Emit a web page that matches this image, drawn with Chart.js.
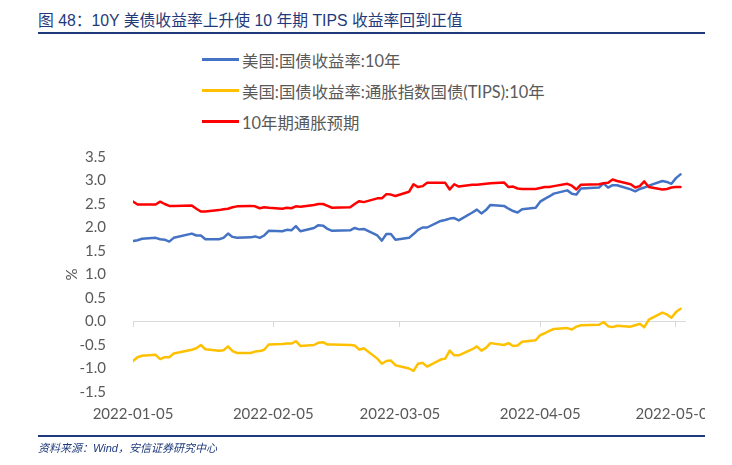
<!DOCTYPE html>
<html>
<head>
<meta charset="utf-8">
<script src="https://cdn.jsdelivr.net/npm/chart.js@4.4.1/dist/chart.umd.min.js"></script>
<style>
  body { margin: 0; background: #fff; }
  #wrap { position: relative; width: 732px; height: 465px; overflow: hidden; }
  #chart { position: absolute; left: 0; top: 0; }
  .title { position: absolute; left: 38px; top: 8px; font: 15.8px "Liberation Sans", "Noto Sans CJK SC", sans-serif; color: #1f3a7a; white-space: nowrap; }
  .rule { position: absolute; left: 38px; width: 667px; background: #1f3a7a; }
  .source { position: absolute; left: 38px; top: 439px; font: italic 11px "Liberation Sans", "Noto Sans CJK SC", sans-serif; color: #1f3a7a; }
  #legend { position: absolute; left: 202px; top: 44px; }
  .lg { height: 31px; display: flex; align-items: center; font: 16.4px Lato, "Noto Sans CJK SC", sans-serif; color: #595959; white-space: nowrap; }
  .lg i { display: inline-block; width: 37px; height: 3px; margin-right: 3px; }
</style>
</head>
<body>
<div id="wrap">
  <div class="title">图 48：10Y 美债收益率上升使 10 年期 TIPS 收益率回到正值</div>
  <div class="rule" style="top:32px;height:1.5px"></div>
  <div id="legend"></div>
  <canvas id="chart" width="732" height="465"></canvas>
  <div class="rule" style="top:435px;height:2px"></div>
  <div class="source">资料来源：Wind，安信证券研究中心</div>
</div>
<script>
const dates = [
  '2022-01-05','2022-01-06','2022-01-07','2022-01-10','2022-01-11','2022-01-12','2022-01-13','2022-01-14',
  '2022-01-18','2022-01-19','2022-01-20','2022-01-21','2022-01-24','2022-01-25','2022-01-26','2022-01-27','2022-01-28','2022-01-31',
  '2022-02-01','2022-02-02','2022-02-03','2022-02-04','2022-02-07','2022-02-08','2022-02-09','2022-02-10','2022-02-11',
  '2022-02-14','2022-02-15','2022-02-16','2022-02-17','2022-02-18','2022-02-22','2022-02-23','2022-02-24','2022-02-25','2022-02-28',
  '2022-03-01','2022-03-02','2022-03-03','2022-03-04','2022-03-07','2022-03-08','2022-03-09','2022-03-10','2022-03-11',
  '2022-03-14','2022-03-15','2022-03-16','2022-03-17','2022-03-18','2022-03-21','2022-03-22','2022-03-23','2022-03-24','2022-03-25',
  '2022-03-28','2022-03-29','2022-03-30','2022-03-31','2022-04-01','2022-04-04','2022-04-05','2022-04-06','2022-04-07','2022-04-08',
  '2022-04-11','2022-04-12','2022-04-13','2022-04-14','2022-04-18','2022-04-19','2022-04-20','2022-04-21','2022-04-22',
  '2022-04-25','2022-04-26','2022-04-27','2022-04-28','2022-04-29','2022-05-02','2022-05-03','2022-05-04','2022-05-05','2022-05-06'
];

// 美国:国债收益率:10年
const ust10y = [
  1.71,1.73,1.76,1.78,1.75,1.74,1.70,1.78,
  1.87,1.83,1.83,1.75,1.75,1.78,1.87,1.80,1.78,1.79,
  1.81,1.78,1.83,1.93,1.92,1.95,1.94,2.03,1.92,
  1.99,2.05,2.04,1.97,1.93,1.94,1.99,1.96,1.97,1.83,
  1.72,1.86,1.86,1.74,1.78,1.86,1.95,2.00,2.00,
  2.14,2.16,2.19,2.20,2.15,2.32,2.38,2.30,2.37,2.48,
  2.46,2.40,2.35,2.32,2.39,2.42,2.55,2.61,2.66,2.72,
  2.79,2.72,2.70,2.83,2.85,2.94,2.85,2.90,2.90,
  2.81,2.77,2.82,2.85,2.89,2.99,2.97,2.93,3.05,3.13
];

// 美国:国债收益率:通胀指数国债(TIPS):10年
const tips10y = [
  -0.84,-0.76,-0.73,-0.71,-0.80,-0.76,-0.76,-0.68,
  -0.60,-0.57,-0.50,-0.59,-0.62,-0.61,-0.53,-0.63,-0.67,-0.67,
  -0.64,-0.63,-0.60,-0.49,-0.48,-0.47,-0.47,-0.42,-0.52,
  -0.50,-0.45,-0.44,-0.49,-0.49,-0.50,-0.51,-0.60,-0.57,-0.79,
  -0.90,-0.84,-0.83,-0.93,-1.00,-1.05,-0.90,-0.88,-0.96,
  -0.81,-0.79,-0.62,-0.72,-0.72,-0.59,-0.53,-0.62,-0.56,-0.46,
  -0.50,-0.46,-0.52,-0.51,-0.43,-0.40,-0.29,-0.25,-0.20,-0.16,
  -0.14,-0.17,-0.11,-0.08,-0.07,-0.01,-0.10,-0.12,-0.09,
  -0.11,-0.08,-0.05,-0.12,0.04,0.19,0.15,0.08,0.20,0.27
];

// 10年期通胀预期
const breakeven10y = [
  2.55,2.49,2.49,2.49,2.55,2.50,2.46,2.46,
  2.47,2.40,2.34,2.34,2.37,2.39,2.40,2.43,2.45,2.46,
  2.45,2.41,2.43,2.42,2.40,2.42,2.41,2.45,2.44,
  2.48,2.50,2.50,2.46,2.42,2.43,2.50,2.56,2.54,2.62,
  2.62,2.71,2.70,2.67,2.76,2.92,2.86,2.88,2.95,
  2.95,2.95,2.81,2.92,2.87,2.91,2.91,2.92,2.93,2.94,
  2.96,2.86,2.87,2.83,2.82,2.82,2.84,2.86,2.86,2.88,
  2.93,2.89,2.81,2.91,2.92,2.94,2.95,3.02,2.99,
  2.92,2.85,2.88,2.98,2.86,2.81,2.82,2.85,2.86,2.86
];

const tickLabels = ['2022-01-05', '2022-02-05', '2022-03-05', '2022-04-05', '2022-05-05'];

const DAY = 864e5;
const t0 = Date.parse(dates[0]);
const dayOf = d => (Date.parse(d) - t0) / DAY;
const tickDays = tickLabels.map(dayOf);
const series = (vals) => dates.map((d, i) => ({ x: dayOf(d), y: vals[i] }));

const setTicks = axis => { axis.ticks = tickDays.map(v => ({ value: v })); };
const labelFont = { family: 'Lato', size: 15 };

const chart = new Chart(document.getElementById('chart'), {
  type: 'line',
  data: {
    datasets: [
      { label: '美国:国债收益率:10年', data: series(ust10y), borderColor: '#4472C4', order: 3 },
      { label: '美国:国债收益率:通胀指数国债(TIPS):10年', data: series(tips10y), borderColor: '#FFC000', order: 2 },
      { label: '10年期通胀预期', data: series(breakeven10y), borderColor: '#FF0000', order: 1 }
    ]
  },
  options: {
    responsive: false,
    animation: false,
    layout: { padding: { top: 157, right: 47, bottom: 37, left: 0 } },
    elements: {
      line: { borderWidth: 2.5, tension: 0, borderCapStyle: 'round', borderJoinStyle: 'round' },
      point: { radius: 0 }
    },
    plugins: { legend: { display: false }, tooltip: { enabled: false } },
    scales: {
      x: {
        type: 'linear', position: 'bottom', min: 0, max: 122,
        afterBuildTicks: setTicks,
        grid: { display: false },
        border: { display: false },
        ticks: {
          padding: 5, color: '#595959', font: labelFont, maxRotation: 0, autoSkip: false,
          callback: v => tickLabels[tickDays.indexOf(v)]
        }
      },
      x0: {
        type: 'linear', position: { y: 0 }, min: 0, max: 122,
        afterBuildTicks: setTicks,
        grid: { drawOnChartArea: false, drawTicks: true, tickLength: 5, color: '#D9D9D9' },
        border: { display: true, color: '#D9D9D9', width: 1 },
        ticks: { display: false }
      },
      y: {
        min: -1.5, max: 3.5,
        afterFit: s => { s.width = 133; },
        grid: { display: false },
        border: { display: false },
        ticks: { stepSize: 0.5, padding: 19, color: '#595959', font: labelFont, callback: v => v.toFixed(1) },
        title: { display: true, text: '%', color: '#595959', font: labelFont, padding: { top: 63, bottom: 0 } }
      }
    }
  },
  plugins: [{
    id: 'cropRight',
    afterDraw: c => {
      // the source picture is cut off at the right edge
      const ctx = c.ctx;
      ctx.save();
      ctx.fillStyle = '#fff';
      ctx.fillRect(705, c.chartArea.bottom + 2, 27, 40);
      ctx.restore();
    }
  }]
});

const legend = document.getElementById('legend');
chart.data.datasets.forEach(ds => {
  const row = document.createElement('div');
  row.className = 'lg';
  row.innerHTML = '<i style="background:' + ds.borderColor + '"></i><span></span>';
  row.querySelector('span').textContent = ds.label;
  legend.appendChild(row);
});
</script>
</body>
</html>
